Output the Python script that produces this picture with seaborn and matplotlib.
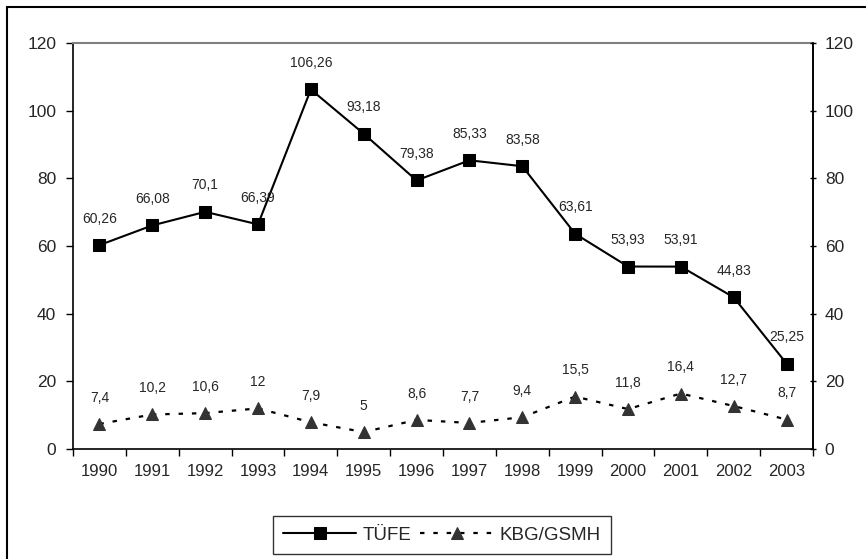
import matplotlib
matplotlib.use("Agg")
import matplotlib.pyplot as plt
import seaborn as sns
import pandas as pd
import numpy as np

years = ["1990", "1991", "1992", "1993", "1994", "1995", "1996",
         "1997", "1998", "1999", "2000", "2001", "2002", "2003"]
tufe = [60.26, 66.08, 70.1, 66.39, 106.26, 93.18, 79.38,
        85.33, 83.58, 63.61, 53.93, 53.91, 44.83, 25.25]
kbg = [7.4, 10.2, 10.6, 12, 7.9, 5, 8.6, 7.7, 9.4, 15.5, 11.8, 16.4, 12.7, 8.7]
yticks = [0, 20, 40, 60, 80, 100, 120]

sns.set_style("white")
plt.rcParams["font.family"] = ["Liberation Sans", "DejaVu Sans"]

df = pd.DataFrame({"pos": np.arange(len(years)), "year": years,
                   "TÜFE": tufe, "KBG/GSMH": kbg})

fig = plt.figure(figsize=(8.66, 5.59), dpi=100)
ax = fig.add_axes([73 / 866, 1 - 449 / 559, 740 / 866, 406 / 559])

sns.lineplot(data=df, x="pos", y="TÜFE", ax=ax, color="black", lw=1.5,
             marker="s", markersize=8, markeredgecolor="black",
             markerfacecolor="black", label="TÜFE")
sns.lineplot(data=df, x="pos", y="KBG/GSMH", ax=ax, color="black", lw=1.6,
             linestyle=(0, (2, 4)), marker="^", markersize=9,
             markeredgecolor="#333333", markerfacecolor="#333333",
             label="KBG/GSMH")

def fmt(v):
    s = ("%.2f" % v).rstrip("0").rstrip(".")
    return s.replace(".", ",")

for p, v in zip(df["pos"], tufe):
    ax.annotate(fmt(v), (p, v), xytext=(0, 19), textcoords="offset points",
                ha="center", va="center", fontsize=10)
for p, v in zip(df["pos"], kbg):
    ax.annotate(fmt(v), (p, v), xytext=(0, 19), textcoords="offset points",
                ha="center", va="center", fontsize=10)

ax.set_xlim(-0.5, len(years) - 0.5)
ax.set_ylim(0, 120)
ax.set_yticks(yticks)
ax.set_yticklabels([str(t) for t in yticks], fontsize=12.5)
ax.set_xticks(df["pos"])
ax.set_xticklabels(years, fontsize=12)
ax.tick_params(axis="x", length=0, pad=11)
ax.set_xticks(np.arange(-0.5, len(years), 1), minor=True)
ax.tick_params(axis="x", which="minor", length=5, width=1, color="black",
               direction="out", bottom=True)
ax.tick_params(axis="y", length=5, width=1, color="black", direction="out",
               left=True, pad=7)
ax.set_xlabel("")
ax.set_ylabel("")

for side in ["left", "bottom", "right"]:
    ax.spines[side].set_color("black")
    ax.spines[side].set_linewidth(1.2)
ax.spines["top"].set_color("#808080")
ax.spines["top"].set_linewidth(1.5)

ax2 = ax.twinx()
ax2.set_ylim(0, 120)
ax2.set_yticks(yticks)
ax2.set_yticklabels([str(t) for t in yticks], fontsize=12.5)
ax2.tick_params(axis="y", length=5, width=1, color="black", direction="inout",
                right=True, pad=6)
for s in ax2.spines.values():
    s.set_visible(False)
ax2.spines["right"].set_visible(True)
ax2.spines["right"].set_color("black")
ax2.spines["right"].set_linewidth(1.2)

handles, labels = ax.get_legend_handles_labels()
ax.get_legend().remove()
leg = fig.legend(handles, labels, loc="center", bbox_to_anchor=(442 / 866, 1 - 535 / 559),
                 ncol=2, fontsize=13.5, frameon=True, fancybox=False,
                 handlelength=3.9, columnspacing=0.45, handletextpad=0.35,
                 borderpad=0.55, borderaxespad=0)
leg.get_frame().set_edgecolor("black")
leg.get_frame().set_linewidth(1.0)

# outer chart border (right/bottom edges run past the image)
fig.add_artist(plt.Rectangle((7 / 866, -0.05), 1.0, 1 - 7 / 559 + 0.05,
                             transform=fig.transFigure, fill=False,
                             edgecolor="black", lw=1.5))

fig.savefig("out.png", dpi=100)
